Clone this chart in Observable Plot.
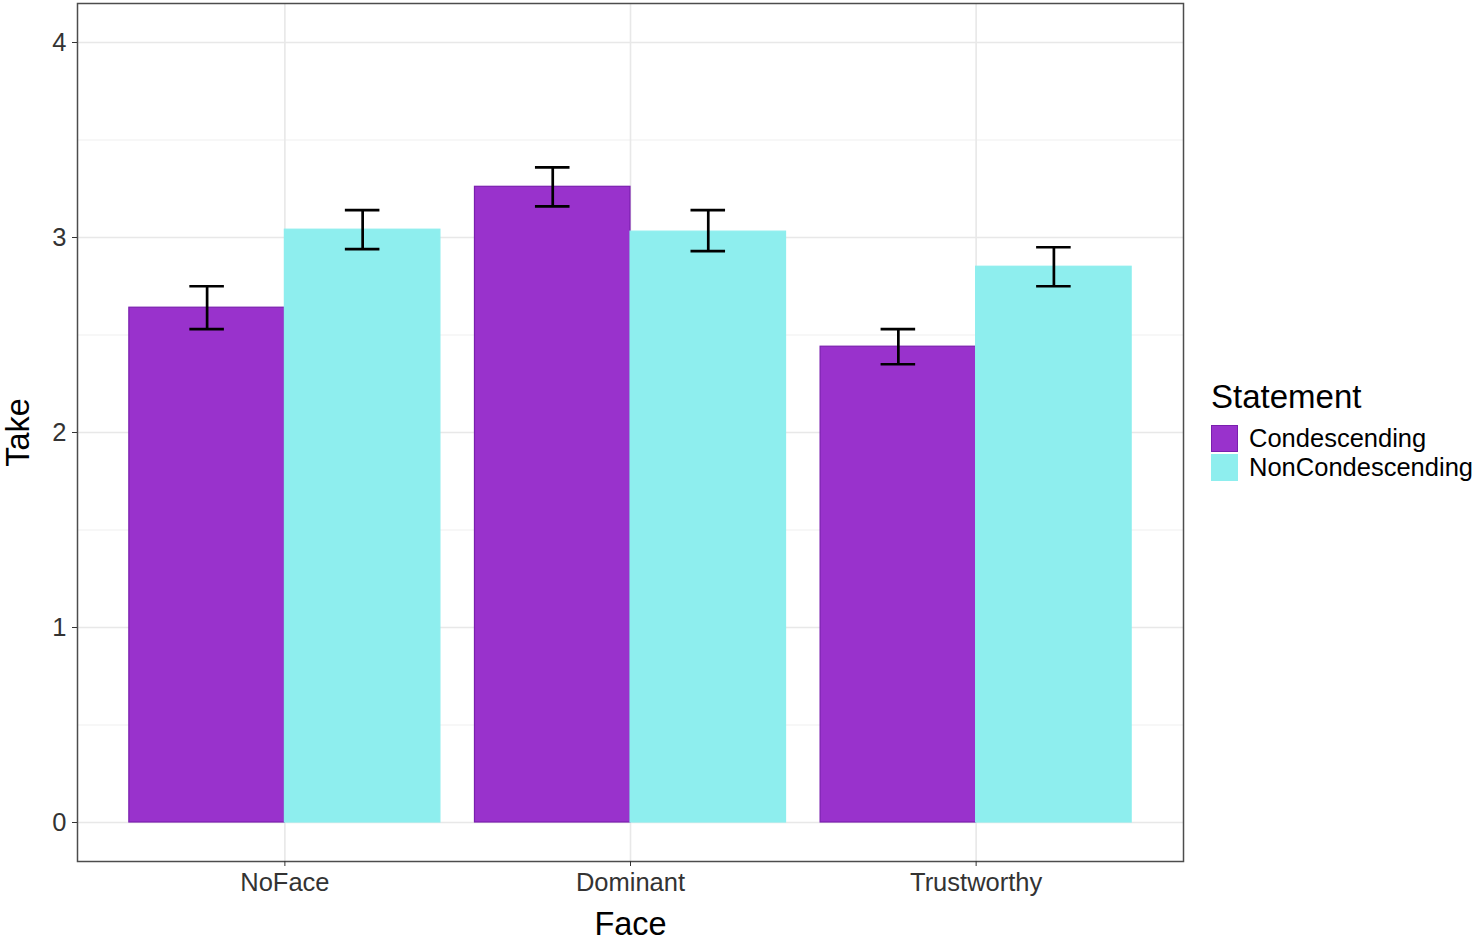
<!DOCTYPE html>
<html>
<head>
<meta charset="utf-8">
<script src="https://cdn.jsdelivr.net/npm/d3@7"></script>
<script src="https://cdn.jsdelivr.net/npm/@observablehq/plot@0.6"></script>
<style>
  html, body { margin: 0; padding: 0; background: #fff; }
  #wrap { position: relative; width: 1477px; height: 941px; font-family: "Liberation Sans", Arial, sans-serif; }
  #legend { position: absolute; left: 1211px; top: 378.6px; color: #000; }
  #legend .title { font-size: 33px; line-height: 36px; white-space: nowrap; }
  #legend .items { margin-top: 10px; }
  #legend .item { display: flex; align-items: center; height: 28.5px; }
  #legend .key { width: 27px; height: 27px; box-sizing: border-box; margin-right: 11px; }
  #legend .lab { font-size: 25.5px; white-space: nowrap; }
</style>
</head>
<body>
<div id="wrap"></div>
<script>
const faces = ["NoFace", "Dominant", "Trustworthy"];
const statements = ["Condescending", "NonCondescending"];
const condMean = [2.64, 3.26, 2.44];
const condLow = [2.53, 3.16, 2.35];
const condHigh = [2.75, 3.36, 2.53];
const nonMean = [3.04, 3.03, 2.85];
const nonLow = [2.94, 2.93, 2.75];
const nonHigh = [3.14, 3.14, 2.95];
const yTicks = [0, 1, 2, 3, 4];
const yMinor = [0.5, 1.5, 2.5, 3.5];
const fills = ["#9932CC", "#8EEEEE"];
const strokes = ["#7A1FAE", "#8EEEEE"];

// dodge layout (as ggplot position_dodge with width 0.9, errorbar width 0.1)
const dodge = 0.9;
const capWidth = 0.1;
const faceIdx = faces.map((f, i) => i);

const data = [];
faces.forEach((f, i) => {
  data.push({fi: i, si: 0, face: f, statement: statements[0], mean: condMean[i], lo: condLow[i], hi: condHigh[i]});
  data.push({fi: i, si: 1, face: f, statement: statements[1], mean: nonMean[i], lo: nonLow[i], hi: nonHigh[i]});
});
const half = dodge / 2;
const left = d => d.fi - half + d.si * half;
const right = d => left(d) + half;
const mid = d => left(d) + half / 2;

const font = "Liberation Sans, Arial, sans-serif";

const chart = Plot.plot({
  width: 1477,
  height: 941,
  marginLeft: 77,
  marginRight: 294,
  marginTop: 3,
  marginBottom: 80,
  style: {fontFamily: font, background: "#fff"},
  x: {domain: [-0.6, faces.length - 0.4]},
  y: {domain: [-0.2, 4.2]},
  color: {domain: statements, range: fills},
  marks: [
    Plot.ruleY(yMinor, {stroke: "#efefef", strokeWidth: 1}),
    Plot.ruleY(yTicks, {stroke: "#e8e8e8", strokeWidth: 1.6}),
    Plot.ruleX(faceIdx, {stroke: "#e8e8e8", strokeWidth: 1.6}),
    Plot.rect(data, {
      x1: left, x2: right, y1: d => 0, y2: "mean",
      fill: "statement",
      stroke: d => strokes[d.si],
      strokeWidth: 1.2
    }),
    Plot.ruleX(data, {x: mid, y1: "lo", y2: "hi", stroke: "#000", strokeWidth: 2.7}),
    Plot.ruleY(data, {y: "lo", x1: d => mid(d) - capWidth / 2, x2: d => mid(d) + capWidth / 2, stroke: "#000", strokeWidth: 2.7}),
    Plot.ruleY(data, {y: "hi", x1: d => mid(d) - capWidth / 2, x2: d => mid(d) + capWidth / 2, stroke: "#000", strokeWidth: 2.7}),
    Plot.frame({stroke: "#4d4d4d", strokeWidth: 1.5}),
    Plot.axisY({
      ticks: yTicks, tickFormat: d3.format("d"), tickSize: 5, tickPadding: 6,
      fontSize: 25.5, color: "#333",
      label: "Take", labelAnchor: "center", labelArrow: "none", labelOffset: 72
    }),
    Plot.axisX({
      ticks: faceIdx, tickFormat: i => faces[i], tickSize: 5, tickPadding: 6,
      fontSize: 25.5, color: "#333",
      label: "Face", labelAnchor: "center", labelArrow: "none", labelOffset: 73
    })
  ]
});

const wrap = document.getElementById("wrap");
wrap.appendChild(chart);

chart.querySelectorAll("[aria-label='y-axis label'] text, [aria-label='x-axis label'] text").forEach(t => {
  t.setAttribute("font-size", "32.5");
  t.style.fontSize = "32.5px";
  t.setAttribute("fill", "#000");
});

const legend = document.createElement("div");
legend.id = "legend";
const title = document.createElement("div");
title.className = "title";
title.textContent = "Statement";
legend.appendChild(title);
const items = document.createElement("div");
items.className = "items";
statements.forEach((s, i) => {
  const item = document.createElement("div");
  item.className = "item";
  const key = document.createElement("div");
  key.className = "key";
  key.style.background = fills[i];
  key.style.border = "1px solid " + strokes[i];
  const lab = document.createElement("span");
  lab.className = "lab";
  lab.textContent = s;
  item.appendChild(key);
  item.appendChild(lab);
  items.appendChild(item);
});
legend.appendChild(items);
wrap.appendChild(legend);
</script>
</body>
</html>
